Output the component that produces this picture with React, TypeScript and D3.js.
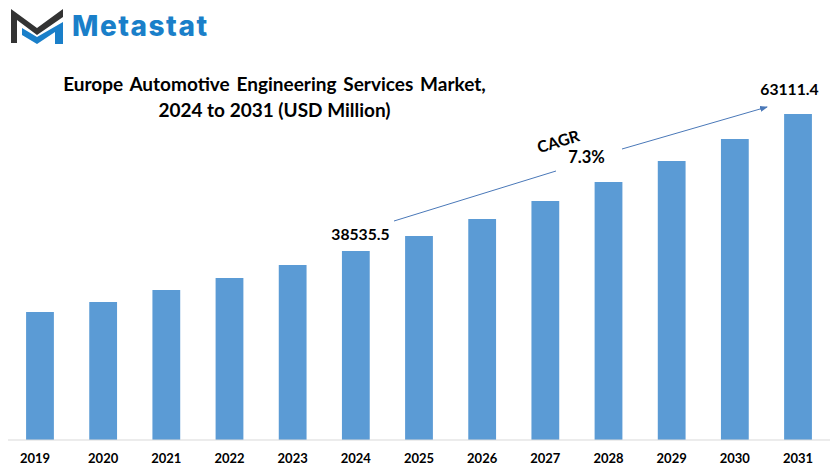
import * as d3 from "d3";

const years = ["2019", "2020", "2021", "2022", "2023", "2024", "2025", "2026", "2027", "2028", "2029", "2030", "2031"];
const marketValues = [27594, 29387, 31540, 33692, 36024, 38535.5, 41226, 44275, 47504, 50912, 54679, 58625, 63111.4];
const labelledYears = ["2024", "2031"];
const titleLines = ["Europe Automotive Engineering Services Market,", "2024 to 2031 (USD Million)"];

const width = 830;
const height = 473;
const baseline = 440;

const x = d3.scaleBand<string>().domain(years).range([8.4, 829.6]).paddingInner(0.56).paddingOuter(0.28);
const y = d3.scaleLinear().domain([4634, 63111.4]).range([baseline, 114]);

const labelFont = "Lato, sans-serif";

export default function App() {
  const barColor = "#5b9bd5";
  const ink = "#000";
  const arrow = "#4a78b8";
  return (
    <svg width={width} height={height} viewBox={`0 0 ${width} ${height}`}
      style={{ position: "fixed", left: 0, top: 0, background: "#fff", fontFamily: labelFont }}>
      <defs>
        <marker id="head" markerWidth="8" markerHeight="6" refX="7" refY="3" orient="auto" markerUnits="userSpaceOnUse">
          <path d="M0,0L8,3L0,6Z" fill={arrow} />
        </marker>
      </defs>

      {/* logo */}
      <path d="M11,9L37,28L63,9L63,17L37,35L17,20L17,43L11,43Z" fill="#333333" />
      <path d="M22,28L37,37L63,22L63,44L55,44L55,32L37,44L22,35Z" fill="#1a7fc9" />
      <text x={72} y={36} fontFamily="Inter, sans-serif" fontWeight={800} fontSize={28} letterSpacing={1.5} fill="#1a7fc9">Metastat</text>

      {/* title */}
      {titleLines.map((line, i) => (
        <text key={line} x={274.5} y={91 + i * 26} textAnchor="middle" fontWeight={700} fontSize={19}
          wordSpacing={i === 0 ? 2.2 : 0} fill={ink}>{line}</text>
      ))}

      {/* bars */}
      {years.map((year, i) => (
        <rect key={year} x={x(year)} y={y(marketValues[i])} width={x.bandwidth()} height={baseline - y(marketValues[i])} fill={barColor} />
      ))}
      <line x1={8} x2={830} y1={baseline} y2={baseline} stroke="#d9d9d9" strokeWidth={1.2} />

      {/* year ticks, the first one sits left of its bar in the reference */}
      {years.map((year, i) => (
        <text key={year} x={x(year)! + x.bandwidth() / 2 + (i === 0 ? -5 : 0)} y={463} textAnchor="middle" fontWeight={700} fontSize={13} fill={ink}>{year}</text>
      ))}

      {/* printed values */}
      <text x={360.5} y={240} textAnchor="middle" fontWeight={700} fontSize={15.7} fill={ink}>
        {d3.format(".1f")(marketValues[years.indexOf(labelledYears[0])])}
      </text>
      <text x={789.5} y={95} textAnchor="middle" fontWeight={700} fontSize={15.7} fill={ink}>
        {d3.format(".1f")(marketValues[years.indexOf(labelledYears[1])])}
      </text>

      {/* CAGR arrow, split around the label */}
      <line x1={394} y1={221} x2={556} y2={171} stroke={arrow} strokeWidth={1} />
      <line x1={622} y1={149} x2={767} y2={107} stroke={arrow} strokeWidth={1} markerEnd="url(#head)" />
      <text transform="translate(560,147) rotate(-17)" textAnchor="middle" fontWeight={700} fontSize={16} fill={ink}>CAGR</text>
      <text x={586.5} y={163} textAnchor="middle" fontWeight={700} fontSize={16.5} fill={ink}>7.3%</text>
    </svg>
  );
}
